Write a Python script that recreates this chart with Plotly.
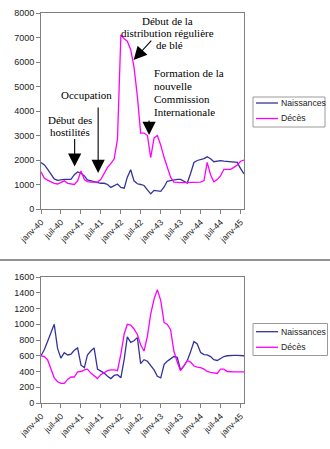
import pandas as pd
import plotly.graph_objects as go

# Monthly series, January 1940 to February 1945
months = pd.date_range("1940-01-01", periods=62, freq="MS")

naissances_haut = [
    1900, 1800, 1630, 1430, 1230, 1170, 1200, 1210, 1210, 1210,
    1400, 1510, 1460, 1350, 1190, 1150, 1110, 1080, 1050, 1050,
    1000, 880, 950, 1020, 880, 850, 1300, 1600, 1150, 1030,
    1000, 960, 780, 620, 760, 740, 720, 900, 1130, 1160,
    1200, 1210, 1210, 1150, 1060, 1450, 1900, 1980, 2020, 2060,
    2130, 2050, 1930, 1950, 1970, 1950, 1930, 1920, 1910, 1900,
    1650, 1430,
]
deces_haut = [
    1520, 1250, 1180, 1100, 1050, 1020, 1100, 1150, 1050, 1020,
    1000, 1150, 1550, 1200, 1120, 1100, 1100, 1100, 1200, 1450,
    1700, 1850, 2050, 2850, 7100, 6950, 6850, 6500, 5800, 4600,
    3100, 3100, 3000, 2100, 2900, 3000, 2600, 2100, 1700, 1300,
    1100, 1080, 1080, 1080, 1080, 1080, 1080, 1090, 1100, 1160,
    1900, 1400, 1110, 1200, 1350, 1620, 1620, 1620, 1700, 1800,
    1950, 2000,
]
naissances_bas = [
    600, 680, 780, 900, 1000, 690, 570, 640, 610, 620,
    670, 700, 480, 450, 610, 660, 700, 430, 410, 380,
    340, 310, 350, 360, 320, 560, 840, 770, 790, 830,
    500, 550, 530, 480, 420, 340, 320, 490, 530, 560,
    590, 580, 420, 470, 540, 650, 780, 750, 640, 615,
    610, 590, 550, 540, 565, 590, 600, 605, 605, 605,
    600, 600,
]
deces_bas = [
    600, 590, 550, 420, 320, 270, 250, 250, 300, 330,
    330, 395, 400, 420, 430, 380, 340, 310, 360, 390,
    410, 420, 420, 410, 620, 880, 1000, 990, 940, 870,
    740, 660, 850, 1130, 1320, 1440, 1300, 1020, 1000, 930,
    660, 520, 410, 470, 540, 520, 470, 455, 450, 430,
    400, 390, 380, 375, 430, 430, 400, 395, 395, 395,
    395, 395,
]

tick_dates = pd.date_range("1940-01-01", "1945-01-01", freq="6MS")
tick_labels = [
    "janv-40", "juil-40", "janv-41", "juil-41", "janv-42", "juil-42",
    "janv-43", "juil-43", "janv-44", "juil-44", "janv-45",
]

series_names = ["Naissances", "Décès"]
series_colors = ["#333399", "#FF00FF"]

W, H = 330, 449


def px(x):
    return x / W


def py(y):
    return 1 - y / H


SANS = "Liberation Sans"
SERIF = "Liberation Serif"

fig = go.Figure()
for name, color, vals in zip(series_names, series_colors, [naissances_haut, deces_haut]):
    fig.add_trace(go.Scatter(x=months, y=vals, name=name, mode="lines",
                             line=dict(color=color, width=1.3),
                             xaxis="x", yaxis="y", showlegend=False))
for name, color, vals in zip(series_names, series_colors, [naissances_bas, deces_bas]):
    fig.add_trace(go.Scatter(x=months, y=vals, name=name, mode="lines",
                             line=dict(color=color, width=1.3),
                             xaxis="x2", yaxis="y2", showlegend=False))

axis_common = dict(showline=True, linecolor="#808080", linewidth=1, mirror=True,
                   ticks="outside", ticklen=4, tickcolor="#808080",
                   showgrid=False, zeroline=False, automargin=False)
x_common = dict(axis_common, type="date", range=[months[0], months[-1]],
                tickmode="array", tickvals=tick_dates, ticktext=tick_labels,
                tickangle=-45, tickfont=dict(family=SANS, size=8.5, color="#222"))

fig.update_layout(
    template="none",
    width=W, height=H,
    margin=dict(l=0, r=0, t=0, b=0, pad=0),
    paper_bgcolor="white", plot_bgcolor="white",
    showlegend=False,
    xaxis=dict(x_common, domain=[px(41), px(244)], anchor="y"),
    yaxis=dict(axis_common, domain=[py(209), py(13)], anchor="x",
               range=[0, 8000], tickvals=list(range(0, 8001, 1000)),
               tickfont=dict(family=SANS, size=9, color="#222")),
    xaxis2=dict(x_common, domain=[px(41), px(244)], anchor="y2"),
    yaxis2=dict(axis_common, domain=[py(403), py(277)], anchor="x2",
                range=[0, 1600], tickvals=list(range(0, 1601, 200)),
                tickfont=dict(family=SANS, size=9, color="#222")),
)

shapes = []
annotations = []

# Divider between the two charts
shapes.append(dict(type="line", xref="paper", yref="paper", x0=0, x1=1,
                   y0=py(260), y1=py(260), line=dict(color="#6E6E6E", width=1.6)))

# Event arrows on the upper chart (tip placed on the date / value)
arrow_style = dict(xref="x", yref="y", text="", showarrow=True, arrowhead=2,
                   arrowsize=2.4, arrowwidth=1.1, arrowcolor="black", standoff=0)
annotations += [
    dict(arrow_style, x="1940-11-04", y=1730, ax=0, ay=-29),
    dict(arrow_style, x="1941-06-07", y=1470, ax=0, ay=-67),
    dict(arrow_style, x="1942-04-28", y=6080, ax=19, ay=-21),
    dict(arrow_style, x="1942-09-16", y=3020, ax=0, ay=-16),
]


# Event captions
def caption(text, x, y, anchor="center"):
    return dict(xref="paper", yref="paper", x=px(x), y=py(y), text=text,
                showarrow=False, xanchor=anchor, yanchor="middle",
                font=dict(family=SERIF, size=11, color="black"))


annotations += [
    caption("Début des", 70, 120),
    caption("hostilités", 70, 132),
    caption("Occupation", 86, 95),
    caption("Début de la", 168, 21),
    caption("distribution régulière", 168, 33),
    caption("de blé", 169, 45.5),
    caption("Formation de la", 151.5, 73.3, "left"),
    caption("nouvelle", 151.5, 86, "left"),
    caption("Commission", 151.5, 98.7, "left"),
    caption("Internationale", 151.5, 111.5, "left"),
]


# Legend boxes, one per chart
def legend_box(x0, x1, y0, y1, rows):
    shapes.append(dict(type="rect", xref="paper", yref="paper",
                       x0=px(x0), x1=px(x1), y0=py(y1), y1=py(y0),
                       line=dict(color="#9A9A9A", width=1), fillcolor="white"))
    for (name, color), yy in zip(zip(series_names, series_colors), rows):
        shapes.append(dict(type="line", xref="paper", yref="paper",
                           x0=px(x0 + 3), x1=px(x0 + 25), y0=py(yy), y1=py(yy),
                           line=dict(color=color, width=1.3)))
        annotations.append(dict(xref="paper", yref="paper", x=px(x0 + 25.5), y=py(yy),
                                text=name, showarrow=False, xanchor="left",
                                yanchor="middle",
                                font=dict(family=SANS, size=8.7, color="#222")))


legend_box(253, 325, 97, 127, [103, 118.5])
legend_box(253, 327.5, 323.5, 355.5, [331.7, 347.3])

fig.update_layout(shapes=shapes, annotations=annotations)

fig.write_html("out.html")
